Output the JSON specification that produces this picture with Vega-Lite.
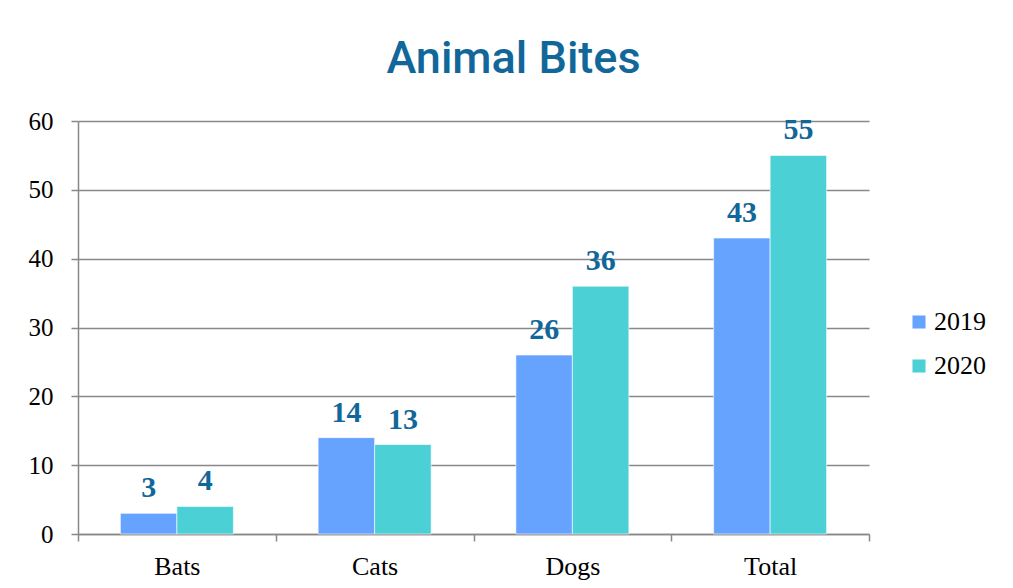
{
  "$schema": "https://vega.github.io/schema/vega-lite/v6.json",
  "autosize": "none",
  "width": 791,
  "height": 413,
  "padding": {"left": 78, "top": 121, "right": 144, "bottom": 54},
  "background": "#ffffff",
  "title": {
    "text": "Animal Bites",
    "font": "Roboto",
    "fontSize": 45,
    "fontWeight": 500,
    "color": "#11679A",
    "anchor": "middle",
    "dx": 40,
    "offset": 27
  },
  "config": {
    "view": {"stroke": null},
    "axis": {
      "labelFont": "Liberation Serif",
      "labelFontSize": 25,
      "labelColor": "#000000",
      "domainColor": "#888888",
      "domainWidth": 1.5,
      "tickColor": "#888888",
      "tickWidth": 1.5,
      "tickSize": 7,
      "gridColor": "#888888",
      "gridWidth": 1.5,
      "title": null
    }
  },
  "data": {
    "values": [
      {"animal": "Bats", "year": "2019", "bites": 3},
      {"animal": "Bats", "year": "2020", "bites": 4},
      {"animal": "Cats", "year": "2019", "bites": 14},
      {"animal": "Cats", "year": "2020", "bites": 13},
      {"animal": "Dogs", "year": "2019", "bites": 26},
      {"animal": "Dogs", "year": "2020", "bites": 36},
      {"animal": "Total", "year": "2019", "bites": 43},
      {"animal": "Total", "year": "2020", "bites": 55}
    ]
  },
  "encoding": {
    "x": {
      "field": "animal",
      "type": "nominal",
      "sort": ["Bats", "Cats", "Dogs", "Total"],
      "scale": {"paddingInner": 0, "paddingOuter": 0},
      "axis": {"labelAngle": 0, "tickBand": "extent", "labelPadding": 12, "labelFontSize": 26, "grid": false}
    },
    "xOffset": {
      "field": "year",
      "type": "nominal",
      "scale": {"paddingInner": 0, "paddingOuter": 0.75}
    },
    "y": {
      "field": "bites",
      "type": "quantitative",
      "scale": {"domain": [0, 60], "nice": false},
      "axis": {"values": [0, 10, 20, 30, 40, 50, 60], "labelPadding": 18, "grid": true}
    }
  },
  "layer": [
    {
      "mark": {"type": "bar", "stroke": "#ffffff", "strokeWidth": 0.6},
      "encoding": {
        "color": {
          "field": "year",
          "type": "nominal",
          "scale": {"domain": ["2019", "2020"], "range": ["#66A3FF", "#4BD0D6"]},
          "legend": {
            "title": null,
            "orient": "none",
            "legendX": 828,
            "legendY": 188,
            "symbolType": "square",
            "symbolSize": 170,
            "symbolStrokeWidth": 0,
            "labelFont": "Liberation Serif",
            "labelFontSize": 26,
            "labelColor": "#000000",
            "labelOffset": 2,
            "rowPadding": 18
          }
        }
      }
    },
    {
      "mark": {
        "type": "text",
        "font": "Liberation Serif",
        "fontSize": 30,
        "fontWeight": "bold",
        "color": "#11679A",
        "baseline": "alphabetic",
        "dy": -16
      },
      "encoding": {
        "text": {"field": "bites", "type": "quantitative"}
      }
    }
  ]
}
